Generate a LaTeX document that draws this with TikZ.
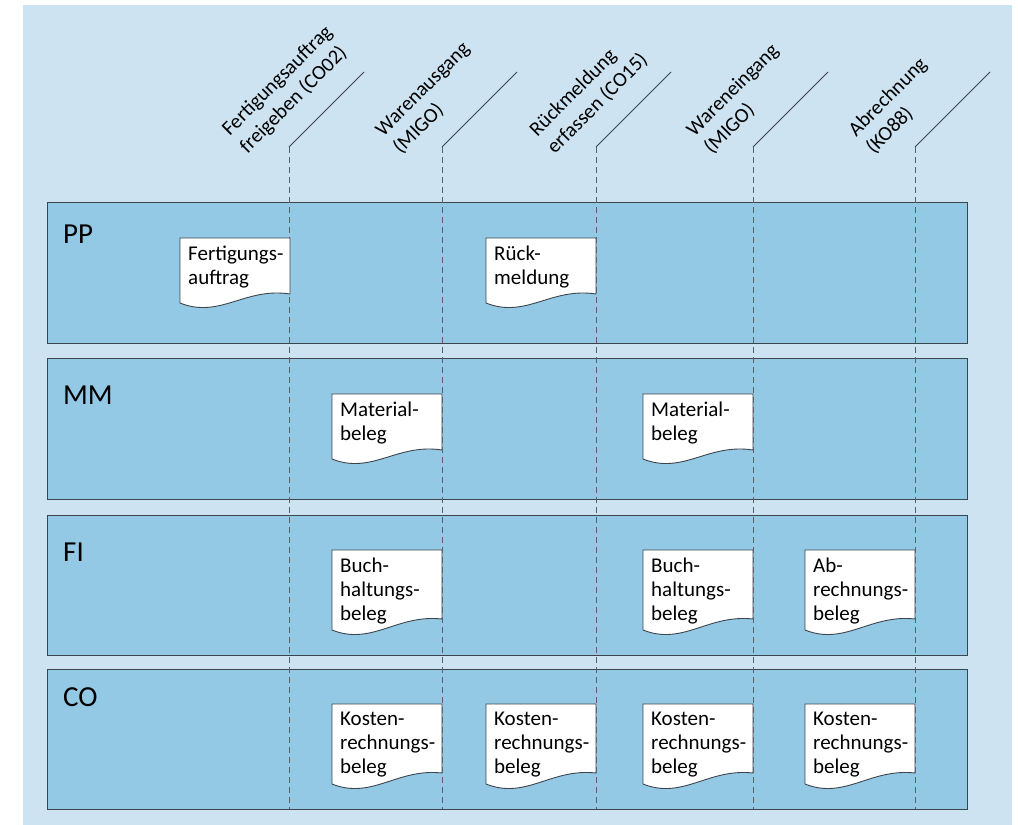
\documentclass[tikz,border=0pt]{standalone}
\usepackage{fontspec}
\setmainfont{Carlito}
\definecolor{bgblue}{RGB}{205,227,241}
\definecolor{panelblue}{RGB}{148,201,229}
\definecolor{lineg}{RGB}{60,68,78}
\tikzset{
  panel/.style={draw=lineg, line width=1pt, fill=panelblue, minimum width=920pt, anchor=north west, inner sep=0pt},
  plabel/.style={font=\fontsize{29}{32}\selectfont, anchor=base west, inner sep=0pt},
  vdash/.style={draw=lineg!85, line width=0.9pt, dash pattern=on 6pt off 4pt},
  diag/.style={draw=lineg, line width=0.9pt},
  steplabel/.style={font=\fontsize{20.5}{25}\selectfont, rotate=45, anchor=south west, align=left, inner sep=0pt},
  docline/.style={draw=lineg, line width=0.9pt, fill=white},
  doctext/.style={font=\fontsize{21}{24}\selectfont, anchor=north west, align=left, inner sep=0pt},
}
\newcommand\docsh[4]{%
  \filldraw[docline] ({#1-110},#2) -- (#1,#2) -- (#1,{#2+#4})
    .. controls ({#1-45},{#2+#3-16}) and ({#1-70},{#2+#3+16}) .. ({#1-110},{#2+#3}) -- cycle;}
\begin{document}
\begin{tikzpicture}[x=1pt,y=-1pt]
\useasboundingbox (0,0) rectangle (1018,825);
\fill[bgblue] (23,5) rectangle (1012,825);
% panels
\node[panel, minimum height=141pt] (pp) at (47,202) {};
\node[panel, minimum height=141pt] (mm) at (47,358) {};
\node[panel, minimum height=140pt] (fi) at (47,515) {};
\node[panel, minimum height=140pt] (co) at (47,669) {};
\node[plabel] (ppl) at (63,243) {PP};
\node[plabel] (mml) at (63,404) {MM};
\node[plabel] (fil) at (63,561) {FI};
\node[plabel] (col) at (63,706) {CO};
% columns
\foreach \i/\x in {1/289,2/442,3/596,4/753,5/915}{
  \coordinate (c\i) at (\x,147);
  \coordinate (e\i) at (\x,809);
  \coordinate (t\i) at (\x+75,72);
  \draw[vdash] (c\i) -- (e\i);
  \draw[diag] (c\i) -- (t\i);
}
\node[steplabel] (s1) at (250,157) {Fertigungsauftrag\\freigeben (CO02)};
\node[steplabel] (s2) at (403,157) {Warenausgang\\(MIGO)};
\node[steplabel] (s3) at (557,157) {Rückmeldung\\erfassen (CO15)};
\node[steplabel] (s4) at (714,157) {Wareneingang\\(MIGO)};
\node[steplabel] (s5) at (876,157) {Abrechnung\\(KO88)};
% PP documents
\docsh{290}{238}{65}{56}
\node[doctext] (d1) at (188,246) {Fertigungs-\\auftrag};
\docsh{596}{238}{65}{56}
\node[doctext] (d2) at (494,246) {Rück-\\meldung};
% MM documents
\docsh{442}{394}{65}{56}
\node[doctext] (d3) at (340,402) {Material-\\beleg};
\docsh{753}{394}{65}{56}
\node[doctext] (d4) at (651,402) {Material-\\beleg};
% FI documents
\docsh{442}{550}{80}{69}
\node[doctext] (d5) at (340,558) {Buch-\\haltungs-\\beleg};
\docsh{753}{550}{80}{69}
\node[doctext] (d6) at (651,558) {Buch-\\haltungs-\\beleg};
\docsh{915}{550}{80}{69}
\node[doctext] (d7) at (813,558) {Ab-\\rechnungs-\\beleg};
% CO documents
\docsh{442}{704}{80}{69}
\node[doctext] (d8) at (340,712) {Kosten-\\rechnungs-\\beleg};
\docsh{596}{704}{80}{69}
\node[doctext] (d9) at (494,712) {Kosten-\\rechnungs-\\beleg};
\docsh{753}{704}{80}{69}
\node[doctext] (d10) at (651,712) {Kosten-\\rechnungs-\\beleg};
\docsh{915}{704}{80}{69}
\node[doctext] (d11) at (813,712) {Kosten-\\rechnungs-\\beleg};
\end{tikzpicture}
\end{document}
